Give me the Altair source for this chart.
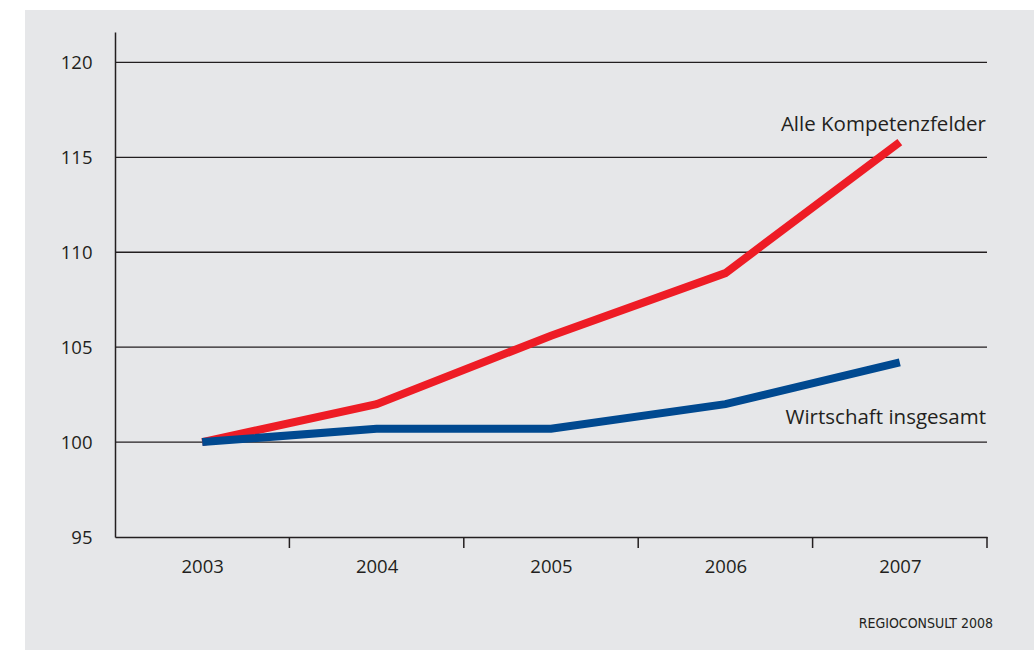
import altair as alt
import pandas as pd

years = [2003, 2004, 2005, 2006, 2007]
alle = [100.0, 102.0, 105.6, 108.9, 115.8]
wirtschaft = [100.0, 100.7, 100.7, 102.0, 104.2]
series_names = ["Alle Kompetenzfelder", "Wirtschaft insgesamt"]
y_ticks = [95, 100, 105, 110, 115, 120]
grid_values = [100, 105, 110, 115, 120]
label_y = [116.4, 100.95]
source = "REGIOCONSULT 2008"

rows = []
for yr, a, w in zip(years, alle, wirtschaft):
    rows.append({"Jahr": yr, "Wert": a, "Reihe": series_names[0]})
    rows.append({"Jahr": yr, "Wert": w, "Reihe": series_names[1]})
df = pd.DataFrame(rows)
lab = pd.DataFrame({"Reihe": series_names, "y": label_y})

FONT = "Open Sans"
INK = "#231f20"
W, H = 872, 505

xscale = alt.Scale(domain=[2002.5, 2007.5], nice=False, zero=False)
yscale = alt.Scale(domain=[95, 121.6], nice=False, zero=False)
color = alt.Scale(domain=series_names, range=["#ee1c25", "#004990"])

xaxis = alt.Axis(values=years, format="d", title=None, ticks=False,
                 labelPadding=20, labelFontSize=18.5, labelFont=FONT,
                 labelColor=INK, domain=True, domainColor=INK,
                 domainWidth=1.5, grid=False, orient="bottom", zindex=1)
yaxis = alt.Axis(values=y_ticks, title=None, ticks=False, labelPadding=23,
                 labelFontSize=18.5, labelFont=FONT, labelColor=INK,
                 domain=True, domainColor=INK, domainWidth=1.5, grid=False, zindex=1)

bg = alt.Chart(pd.DataFrame({"a": [0]})).mark_rect(color="#e6e7e9").encode(
    x=alt.value(-90), x2=alt.value(919), y=alt.value(-22), y2=alt.value(618)
)

grid = alt.Chart(pd.DataFrame({"g": grid_values})).mark_rule(color=INK, strokeWidth=1.3).encode(
    y=alt.Y("g:Q", scale=yscale, axis=yaxis),
    x=alt.value(0), x2=alt.value(W),
)

lines = alt.Chart(df).mark_line(strokeWidth=8, strokeCap="butt", strokeJoin="miter").encode(
    x=alt.X("Jahr:Q", scale=xscale, axis=xaxis),
    y=alt.Y("Wert:Q", scale=yscale, axis=yaxis),
    color=alt.Color("Reihe:N", scale=color, legend=None),
    order=alt.Order("Jahr:Q"),
)

tick_df = pd.DataFrame({"t": [y + 0.5 for y in years]})
ticks = alt.Chart(tick_df).mark_rule(color=INK, strokeWidth=1.5).encode(
    x=alt.X("t:Q", scale=xscale, axis=xaxis),
    y=alt.value(H), y2=alt.value(H + 11),
)

texts = alt.Chart(lab).mark_text(align="right", baseline="alphabetic", font=FONT,
                                 fontSize=20.5, color=INK).encode(
    text="Reihe:N",
    x=alt.value(W - 1),
    y=alt.Y("y:Q", scale=yscale, axis=yaxis),
)

src = alt.Chart(pd.DataFrame({"s": [source]})).mark_text(
    align="right", baseline="alphabetic", font="DejaVu Sans Condensed, Open Sans",
    fontSize=14, color=INK
).encode(text="s:N", x=alt.value(878), y=alt.value(596))

chart = alt.layer(bg, grid, lines, ticks, texts, src).properties(
    width=W, height=H,
    autosize=alt.AutoSizeParams(type="none"),
    padding={"left": 115, "top": 32, "right": 47, "bottom": 113},
    background="white",
).configure_view(stroke=None)

chart.save("out.html", embed_options={"renderer": "svg", "actions": False})
